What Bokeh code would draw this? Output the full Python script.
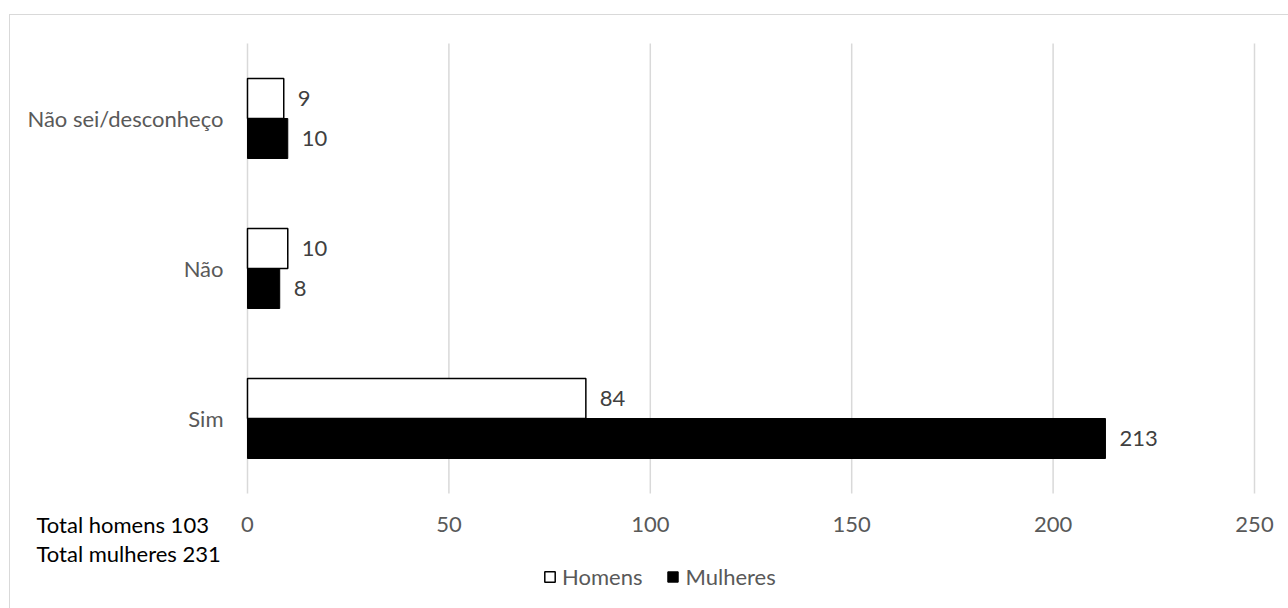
from bokeh.plotting import figure
from bokeh.models import (ColumnDataSource, Label, Legend, LegendItem, FixedTicker,
                          LinearAxis, Range1d)
from bokeh.core.properties import value
from bokeh.embed import file_html
from bokeh.resources import INLINE

categories = ["Sim", "Não", "Não sei/desconheço"]
homens = [84, 10, 9]
mulheres = [213, 8, 10]
x_ticks = [0, 50, 100, 150, 200, 250]
total_homens = 103
total_mulheres = 231

FONT = "Lato"
GRAY = "#595959"
FS = "22px"

pos = list(range(len(categories)))
bw = 0.2667
src = ColumnDataSource(dict(
    pos=pos,
    y_h=[i + bw / 2 for i in pos],
    y_m=[i - bw / 2 for i in pos],
    homens=homens,
    mulheres=mulheres,
    homens_txt=[str(v) for v in homens],
    mulheres_txt=[str(v) for v in mulheres],
))

W, H = 1279, 594
# frame covers the whole canvas; 1 x-unit = 1007/250 px, 1 category = 150 px
px_per_x = 1007 / 250
x0_px = 237          # pixel position of x=0 inside the canvas
y0_px = 403          # pixel position (from top) of the first category centre
cat_px = 150
x_range = Range1d(-x0_px / px_per_x, (W - x0_px) / px_per_x)
y_range = Range1d(-(H - y0_px) / cat_px, y0_px / cat_px)

p = figure(width=W, height=H, x_range=x_range, y_range=y_range,
           output_backend="svg", toolbar_location=None,
           x_axis_location=None, y_axis_location=None,
           min_border=0, min_border_left=0, min_border_right=0,
           min_border_top=0, min_border_bottom=0)
p.styles = {"margin-left": "9px", "margin-top": "14px",
            "border-left": "1px solid #d9d9d9", "border-top": "1px solid #d9d9d9"}
p.outline_line_color = None
p.background_fill_color = "white"
p.border_fill_color = "white"
p.xgrid.visible = False
p.ygrid.visible = False

lo, hi = pos[0] - 0.5, pos[-1] + 0.5
# vertical gridlines at the x ticks, over the category band only
p.segment(x0=x_ticks, x1=x_ticks, y0=[lo] * len(x_ticks), y1=[hi] * len(x_ticks),
          line_color="#d9d9d9", line_width=1.5)

r1 = p.hbar(y="y_h", right="homens", left=0, height=bw,
            source=src, fill_color="white", line_color="black", line_width=1.5)
r2 = p.hbar(y="y_m", right="mulheres", left=0, height=bw,
            source=src, fill_color="black", line_color="black", line_width=1)

p.text(x="homens", y="y_h", text="homens_txt", source=src,
       x_offset=14, text_align="left", text_baseline="middle",
       text_font=value(FONT), text_font_size=FS, text_color="#404040")
p.text(x="mulheres", y="y_m", text="mulheres_txt", source=src,
       x_offset=14, text_align="left", text_baseline="middle",
       text_font=value(FONT), text_font_size=FS, text_color="#404040")

# x axis fixed at the bottom of the category band
xaxis = LinearAxis(fixed_location=lo, ticker=FixedTicker(ticks=x_ticks))
xaxis.axis_line_color = None
xaxis.major_tick_line_color = None
xaxis.minor_tick_line_color = None
xaxis.major_label_standoff = 17
xaxis.major_label_text_font = FONT
xaxis.major_label_text_font_size = FS
xaxis.major_label_text_color = GRAY
p.add_layout(xaxis, "below")

# category axis fixed at x = 0
yaxis = LinearAxis(fixed_location=0, ticker=FixedTicker(ticks=pos))
yaxis.major_label_overrides = {i: c for i, c in zip(pos, categories)}
yaxis.axis_line_color = None
yaxis.major_tick_line_color = None
yaxis.minor_tick_line_color = None
yaxis.major_label_standoff = 18
yaxis.major_label_orientation = "horizontal"
yaxis.major_label_text_font = FONT
yaxis.major_label_text_font_size = FS
yaxis.major_label_text_color = GRAY
p.add_layout(yaxis, "left")

legend = Legend(items=[LegendItem(label="Homens", renderers=[r1]),
                       LegendItem(label="Mulheres", renderers=[r2])],
                orientation="horizontal", location=(533, 19),
                glyph_width=13, glyph_height=13, label_standoff=6, spacing=24,
                padding=0, margin=0, border_line_color=None, background_fill_alpha=0,
                label_text_font=FONT, label_text_font_size=FS, label_text_color=GRAY)
p.add_layout(legend, "center")

for i, t in enumerate([f"Total homens {total_homens}", f"Total mulheres {total_mulheres}"]):
    p.add_layout(Label(x=26, y=85 - i * 29, x_units="screen", y_units="screen", text=t,
                       text_font=FONT, text_font_size=FS, text_color="black",
                       text_baseline="middle", text_align="left"))

open("out.html", "w").write(file_html(p, INLINE))
